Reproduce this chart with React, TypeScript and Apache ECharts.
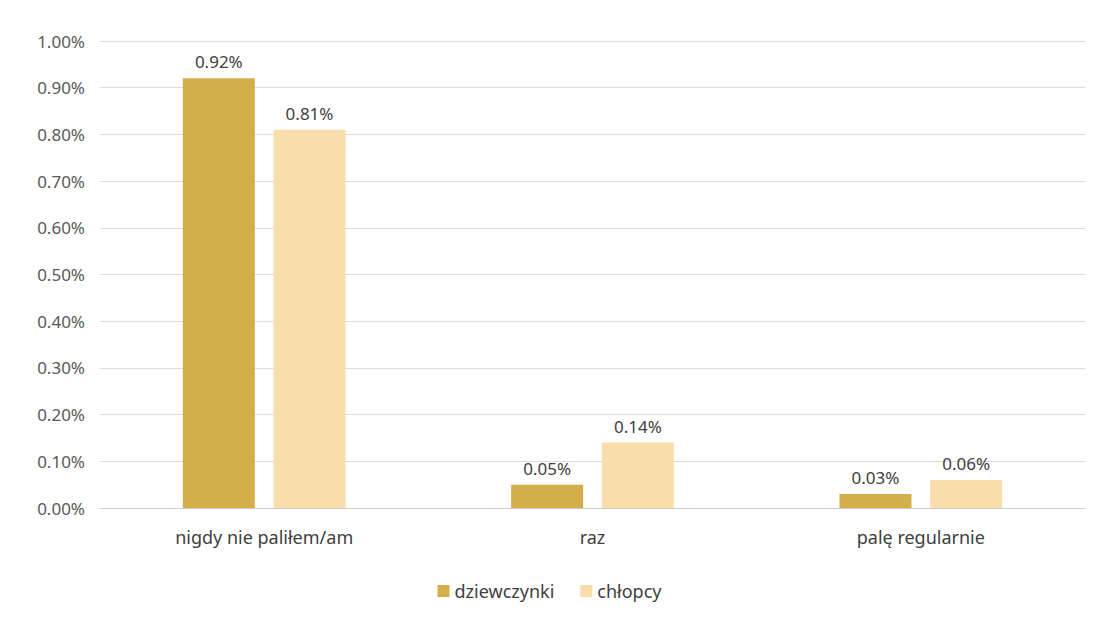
import React, { useEffect, useRef } from "react";
import * as echarts from "echarts";

const categories = ["nigdy nie paliłem/am", "raz", "palę regularnie"];
const girls = [0.92, 0.05, 0.03];
const boys = [0.81, 0.14, 0.06];
const seriesNames = ["dziewczynki", "chłopcy"];

export default function App() {
  const ref = useRef<HTMLDivElement>(null);
  useEffect(() => {
    const chart = echarts.init(ref.current!, null, { renderer: "svg" });
    const font = "'Noto Sans', sans-serif";
    const fmt = (v: number) => v.toFixed(2) + "%";
    const labelStyle = {
      show: true,
      position: "top",
      distance: 8,
      fontSize: 17,
      color: "#404040",
      fontFamily: font,
      formatter: (p: any) => fmt(p.value),
    };
    chart.setOption({
      animation: false,
      backgroundColor: "#ffffff",
      textStyle: { fontFamily: font },
      grid: { left: 100, right: 14, top: 41, bottom: 112, containLabel: false },
      legend: {
        bottom: 15,
        left: "center",
        itemWidth: 12,
        itemHeight: 12,
        itemGap: 26,
        icon: "rect",
        textStyle: { fontSize: 18, color: "#404040", fontFamily: font },
        data: seriesNames,
      },
      xAxis: {
        type: "category",
        data: categories,
        axisLine: { lineStyle: { color: "#d0d0d0" } },
        axisTick: { show: false },
        axisLabel: { fontSize: 18, color: "#404040", margin: 20, fontFamily: font },
      },
      yAxis: {
        type: "value",
        min: 0,
        max: 1,
        interval: 0.1,
        axisLine: { show: false },
        axisTick: { show: false },
        splitLine: { lineStyle: { color: "#dcdcdc" } },
        axisLabel: { fontSize: 17, color: "#595959", margin: 15, formatter: fmt, fontFamily: font },
      },
      series: [
        {
          name: seriesNames[0],
          type: "bar",
          data: girls,
          barWidth: 72,
          barGap: "26%",
          itemStyle: { color: "#D5AE4C" },
          label: labelStyle,
        },
        {
          name: seriesNames[1],
          type: "bar",
          data: boys,
          barWidth: 72,
          itemStyle: { color: "#F9DDAA" },
          label: labelStyle,
        },
      ],
    });
    return () => chart.dispose();
  }, []);
  return (
    <div
      ref={ref}
      style={{ position: "fixed", left: 0, top: 0, width: 1099, height: 620 }}
    />
  );
}
